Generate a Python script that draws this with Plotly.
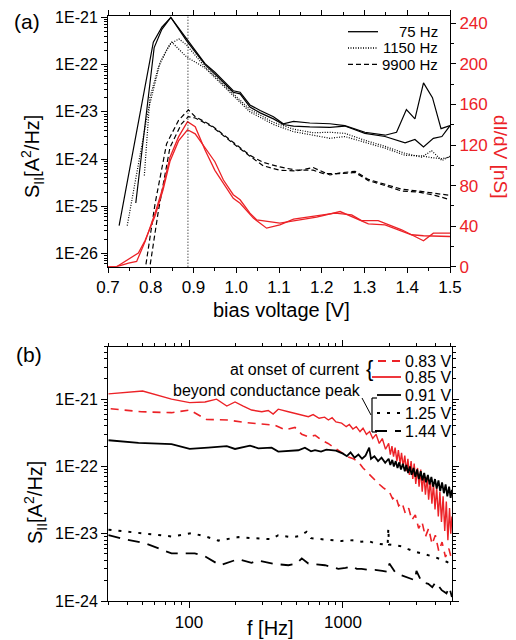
import plotly.graph_objects as go

# ---------------- panel (a): noise vs bias voltage ----------------
# 75 Hz (two sweeps)
v_75a = [0.726, 0.806, 0.826, 0.847, 0.884, 0.927, 0.95, 0.993, 1.009, 1.032, 1.056, 1.087, 1.11, 1.134,
         1.172, 1.219, 1.254, 1.301, 1.348, 1.375, 1.398, 1.418, 1.438, 1.459, 1.479, 1.5]
s_75a = [3.9e-26, 3.0e-22, 6.2e-22, 1.0e-21, 3.5e-22, 1.05e-22, 6.9e-23, 2.8e-23, 2.6e-23, 1.4e-23, 1.07e-23,
         7.9e-24, 5.6e-24, 6.3e-24, 5.8e-24, 5.6e-24, 5.1e-24, 3.7e-24, 3.2e-24, 3.7e-24, 1.12e-23, 7.1e-24,
         4.1e-23, 2.0e-23, 4.4e-24, 5.1e-24]
v_75b = [0.765, 0.808, 0.826, 0.847, 0.884, 0.927, 0.95, 0.993, 1.009, 1.032, 1.056, 1.087, 1.11, 1.134,
         1.172, 1.219, 1.254, 1.301, 1.348, 1.395, 1.418, 1.438, 1.461, 1.481, 1.5]
s_75b = [1.17e-25, 2.3e-22, 5.6e-22, 1.0e-21, 3.2e-22, 1.0e-22, 6.3e-23, 2.6e-23, 2.4e-23, 1.26e-23, 9.5e-24,
         7.1e-24, 5.4e-24, 5.0e-24, 4.8e-24, 4.7e-24, 5.0e-24, 3.5e-24, 3.0e-24, 2.2e-24, 2.6e-24, 1.8e-24,
         2.75e-24, 3.0e-24, 5.1e-24]
# 1150 Hz
v_1150a = [0.745, 0.794, 0.822, 0.845, 0.866, 0.884, 0.927, 0.993, 1.032, 1.087, 1.134, 1.18, 1.219, 1.254,
           1.301, 1.348, 1.395, 1.434, 1.457, 1.481, 1.5]
s_1150a = [3.9e-26, 1.07e-23, 1.12e-22, 2.75e-22, 3.5e-22, 2.6e-22, 8.9e-23, 2.4e-23, 1.12e-23, 6.0e-24,
           4.3e-24, 3.6e-24, 3.7e-24, 3.5e-24, 2.5e-24, 1.86e-24, 1.32e-24, 1.1e-24, 1.5e-24, 9.3e-25, 1.15e-24]
v_1150b = [0.785, 0.798, 0.818, 0.837, 0.849, 0.884, 0.927, 0.993, 1.032, 1.087, 1.134, 1.18, 1.219, 1.254,
           1.301, 1.348, 1.395, 1.434, 1.457, 1.481, 1.5]
s_1150b = [4.5e-25, 2.0e-23, 8.9e-23, 2.0e-22, 3.0e-22, 1.45e-22, 8.5e-23, 2.2e-23, 1.0e-23, 5.4e-24,
           3.8e-24, 3.2e-24, 2.75e-24, 3.0e-24, 2.3e-24, 1.7e-24, 1.2e-24, 1.17e-24, 1.07e-24, 1.02e-24, 1.1e-24]
# 9900 Hz
v_9900a = [0.786, 0.81, 0.837, 0.865, 0.888, 0.904, 0.943, 0.966, 0.997, 1.032, 1.063, 1.102, 1.141, 1.18,
           1.204, 1.243, 1.278, 1.309, 1.348, 1.387, 1.426, 1.465, 1.5]
s_9900a = [4.0e-27, 1.12e-25, 2.1e-24, 6.6e-24, 1.1e-23, 7.9e-24, 5.1e-24, 3.5e-24, 2.1e-24, 1.2e-24,
           8.5e-25, 6.8e-25, 5.8e-25, 5.8e-25, 4.9e-25, 4.9e-25, 5.2e-25, 3.5e-25, 2.75e-25, 2.1e-25,
           2.0e-25, 1.7e-25, 1.38e-25]
v_9900b = [0.796, 0.818, 0.845, 0.872, 0.888, 0.904, 0.943, 0.966, 0.997, 1.032, 1.063, 1.102, 1.141, 1.18,
           1.219, 1.243, 1.278, 1.309, 1.348, 1.387, 1.426, 1.465, 1.5]
s_9900b = [4.0e-27, 8.1e-26, 1.78e-24, 5.6e-24, 7.9e-24, 7.4e-24, 4.9e-24, 3.3e-24, 2.0e-24, 1.15e-24,
           7.2e-25, 5.8e-25, 5.6e-25, 6.6e-25, 4.6e-25, 5.1e-25, 5.5e-25, 3.7e-25, 2.95e-25, 2.3e-25,
           2.1e-25, 1.86e-25, 1.7e-25]
# dI/dV (right axis, nS), two sweeps
v_gA = [0.693, 0.72, 0.748, 0.767, 0.787, 0.81, 0.829, 0.845, 0.865, 0.886, 0.904, 0.927, 0.95, 0.993,
        1.009, 1.04, 1.071, 1.102, 1.134, 1.18, 1.219, 1.231, 1.27, 1.293, 1.332, 1.387, 1.438, 1.461, 1.5]
g_A = [0, 0, 3.6, 5.2, 25, 52.8, 79, 108, 128, 143, 138, 115, 95, 67.5, 62.6, 47.9, 38, 41.3, 46.9,
       49.5, 52, 52.8, 51.1, 45.5, 45.5, 36.4, 25.6, 33.1, 33.1]
v_gB = [0.693, 0.72, 0.771, 0.787, 0.81, 0.829, 0.845, 0.865, 0.886, 0.904, 0.95, 0.97, 0.993, 1.009,
        1.032, 1.048, 1.102, 1.141, 1.188, 1.243, 1.309, 1.348, 1.41, 1.438, 1.5]
g_B = [0, 0, 13.5, 26, 50, 76, 104, 124, 135, 131, 103.5, 85.5, 71, 66, 52.8, 46.2, 43, 45.5, 48.9,
       54.4, 42.3, 41.3, 31.5, 30.5, 29.8]
v_peak = 0.887

# ---------------- panel (b): spectra ----------------
f_083 = [31, 49, 77, 101, 130, 180, 231, 300, 361, 420, 488, 540, 596, 660, 728, 800, 887, 980, 1084, 1170,
         1259, 1350, 1459, 1570, 1694, 1830, 2000, 2100, 2200, 2300, 2420, 2540, 2670, 2800, 2950, 3100,
         3260, 3430, 3600, 3790, 3980, 4190, 4400, 4630, 4870, 5100]
s_083 = [7.2e-22, 6.5e-22, 6.3e-22, 6.9e-22, 5.0e-22, 4.9e-22, 4.5e-22, 4.3e-22, 4.1e-22, 3.5e-22, 3.8e-22,
         3.0e-22, 2.75e-22, 2.9e-22, 2.45e-22, 2.2e-22, 1.86e-22, 1.6e-22, 1.38e-22, 1.3e-22, 1.17e-22,
         9.5e-23, 7.9e-23, 6.8e-23, 5.6e-23, 4.8e-23, 4.2e-23, 3.3e-23, 3.6e-23, 2.6e-23, 2.9e-23, 2.0e-23,
         2.4e-23, 1.6e-23, 1.9e-23, 1.2e-23, 1.5e-23, 9.0e-24, 1.2e-23, 7.0e-24, 9.5e-24, 5.5e-24, 7.5e-24,
         4.5e-24, 6.0e-24, 4.0e-24]
f_085 = [30, 50, 77, 101, 127, 151, 176, 199, 225, 255, 297, 327, 352, 380, 442, 490, 540, 596, 640, 700,
         760, 804, 850, 900, 980, 1050, 1100, 1160, 1220, 1290, 1350, 1420, 1490, 1560, 1640, 1720, 1800,
         1890, 1980, 2030, 2080, 2130, 2180, 2240, 2290, 2350, 2400, 2460, 2520, 2580, 2640, 2700, 2770,
         2840, 2900, 2970, 3050, 3120, 3200, 3270, 3350, 3430, 3520, 3600, 3690, 3780, 3870, 3960, 4060,
         4160, 4260, 4360, 4470, 4580, 4690, 4800, 4920, 5010, 5100]
s_085 = [1.2e-21, 1.32e-21, 1.0e-21, 8.9e-22, 9.1e-22, 1.0e-21, 7.9e-22, 9.1e-22, 7.9e-22, 6.9e-22, 6.5e-22,
         6.8e-22, 6.0e-22, 7.1e-22, 6.5e-22, 6.1e-22, 5.8e-22, 5.5e-22, 5.9e-22, 5.2e-22, 5.4e-22, 4.9e-22,
         5.3e-22, 4.6e-22, 4.4e-22, 3.9e-22, 4.2e-22, 3.6e-22, 3.9e-22, 3.3e-22, 3.7e-22, 3.0e-22, 3.3e-22,
         2.6e-22, 3.0e-22, 2.2e-22, 2.6e-22, 1.8e-22, 2.2e-22, 1.5e-22, 2.0e-22, 1.4e-22, 1.9e-22, 1.2e-22,
         1.75e-22, 1.1e-22, 1.6e-22, 1.0e-22, 1.45e-22, 8.5e-23, 1.3e-22, 7.5e-23, 1.2e-22, 6.5e-23,
         1.1e-22, 5.5e-23, 9.5e-23, 5.0e-23, 9.0e-23, 4.2e-23, 8.0e-23, 3.8e-23, 7.0e-23, 3.2e-23, 6.2e-23,
         2.8e-23, 5.5e-23, 2.3e-23, 4.8e-23, 1.8e-23, 4.2e-23, 1.5e-23, 3.6e-23, 1.1e-23, 3.0e-23, 8.0e-24,
         2.4e-23, 1.0e-23, 1.8e-23]
f_091 = [30, 47, 77, 101, 133, 176, 199, 249, 282, 344, 380, 442, 513, 566, 620, 658, 720, 780, 843, 900,
         1000, 1060, 1120, 1190, 1260, 1330, 1400, 1480, 1520, 1600, 1690, 1780, 1880, 1980, 2030, 2090,
         2140, 2200, 2260, 2320, 2380, 2450, 2520, 2580, 2650, 2720, 2790, 2870, 2950, 3030, 3110, 3200,
         3280, 3370, 3460, 3560, 3650, 3750, 3850, 3960, 4060, 4170, 4280, 4400, 4520, 4640, 4760, 4890,
         5000, 5100]
s_091 = [2.45e-22, 2.24e-22, 2.14e-22, 1.82e-22, 1.9e-22, 2.0e-22, 1.82e-22, 2.04e-22, 1.86e-22, 1.9e-22,
         1.66e-22, 1.7e-22, 1.74e-22, 1.9e-22, 1.68e-22, 1.75e-22, 1.66e-22, 1.78e-22, 1.74e-22, 1.72e-22,
         1.55e-22, 1.42e-22, 1.62e-22, 1.35e-22, 1.5e-22, 1.3e-22, 1.45e-22, 1.9e-22, 1.3e-22, 1.42e-22,
         1.2e-22, 1.35e-22, 1.13e-22, 1.3e-22, 1.05e-22, 1.25e-22, 1.0e-22, 1.2e-22, 9.5e-23, 1.15e-22,
         9.0e-23, 1.1e-22, 8.5e-23, 1.05e-22, 8.0e-23, 1.0e-22, 7.5e-23, 9.5e-23, 7.0e-23, 9.0e-23, 6.5e-23,
         8.5e-23, 6.2e-23, 8.0e-23, 5.8e-23, 7.5e-23, 5.4e-23, 7.0e-23, 5.0e-23, 6.5e-23, 4.7e-23, 6.2e-23,
         4.3e-23, 5.8e-23, 4.0e-23, 5.4e-23, 3.6e-23, 5.0e-23, 3.4e-23, 4.5e-23]
f_125 = [30, 47, 77, 104, 130, 155, 209, 260, 344, 380, 463, 520, 581, 620, 692, 800, 980, 1150, 1321, 1460,
         1614, 1800, 1950, 1970, 1990, 2200, 2404, 2650, 2931, 3250, 3581, 3950, 4375, 4750, 5100]
s_125 = [1.15e-23, 1.02e-23, 9.1e-24, 1.02e-23, 9.0e-24, 7.9e-24, 8.9e-24, 8.6e-24, 8.3e-24, 9.5e-24, 8.9e-24,
         9.2e-24, 1.07e-23, 8.6e-24, 8.3e-24, 8.1e-24, 7.8e-24, 8.0e-24, 7.6e-24, 7.8e-24, 7.2e-24, 7.0e-24,
         6.8e-24, 1.2e-23, 6.9e-24, 6.7e-24, 6.5e-24, 5.9e-24, 5.4e-24, 5.1e-24, 4.8e-24, 4.5e-24, 4.1e-24,
         3.8e-24, 3.4e-24]
f_144 = [30, 38, 52, 77, 109, 127, 159, 209, 255, 282, 361, 442, 500, 540, 596, 680, 764, 850, 933, 1040,
         1138, 1230, 1321, 1460, 1614, 1800, 1968, 2000, 2200, 2404, 2650, 2931, 3000, 3250, 3581, 3800,
         4000, 4375, 4700, 4900, 5100]
s_144 = [9.5e-24, 8.3e-24, 7.2e-24, 5.1e-24, 5.1e-24, 4.6e-24, 3.4e-24, 4.2e-24, 3.7e-24, 4.0e-24, 3.55e-24,
         3.4e-24, 3.6e-24, 4.3e-24, 3.6e-24, 3.5e-24, 3.4e-24, 3.2e-24, 3.0e-24, 3.1e-24, 3.3e-24, 3.0e-24,
         3.0e-24, 2.9e-24, 2.9e-24, 2.8e-24, 2.7e-24, 3.6e-24, 2.6e-24, 2.4e-24, 2.2e-24, 2.04e-24, 2.8e-24,
         1.9e-24, 1.8e-24, 1.6e-24, 1.9e-24, 1.45e-24, 1.3e-24, 1.6e-24, 1.15e-24]

exp_ticks = [1e-21, 1e-22, 1e-23, 1e-24, 1e-25, 1e-26]
exp_text = ["1E-21", "1E-22", "1E-23", "1E-24", "1E-25", "1E-26"]

RED = "#ec2227"
FONT = "Liberation Sans, Arial, sans-serif"
W, H = 516, 640


def px(x):
    return x / W


def py(y):
    return 1 - y / H


fig = go.Figure()

# panel (a) black noise curves
for v, s, dash in [(v_75a, s_75a, "solid"), (v_75b, s_75b, "solid"),
                   (v_1150a, s_1150a, "1px,1.5px"), (v_1150b, s_1150b, "1px,1.5px"),
                   (v_9900a, s_9900a, "5px,3px"), (v_9900b, s_9900b, "5px,3px")]:
    fig.add_trace(go.Scatter(x=v, y=s, mode="lines", xaxis="x", yaxis="y",
                             line=dict(color="black", width=1.2, dash=dash), showlegend=False))
# panel (a) conductance
for v, g in [(v_gA, g_A), (v_gB, g_B)]:
    fig.add_trace(go.Scatter(x=v, y=g, mode="lines", xaxis="x", yaxis="y2",
                             line=dict(color=RED, width=1.3), showlegend=False))

# panel (b) spectra
for f, s, col, dash, w in [(f_083, s_083, RED, "8px,6px", 1.6), (f_085, s_085, RED, "solid", 1.4),
                           (f_091, s_091, "black", "solid", 1.8), (f_125, s_125, "black", "3px,7px", 2),
                           (f_144, s_144, "black", "12px,8px", 1.8)]:
    fig.add_trace(go.Scatter(x=f, y=s, mode="lines", xaxis="x2", yaxis="y3",
                             line=dict(color=col, width=w, dash=dash), showlegend=False))

axis_common = dict(showgrid=False, zeroline=False, showline=True, linecolor="black", linewidth=1,
                   ticks="outside", tickcolor="black", automargin=False)

fig.update_layout(
    width=W, height=H, margin=dict(l=0, r=0, t=0, b=0),
    paper_bgcolor="white", plot_bgcolor="white",
    font=dict(family=FONT, color="black", size=16),
    xaxis=dict(domain=[px(108), px(450)], anchor="y", range=[0.7, 1.5], dtick=0.1, tick0=0.7,
               tickformat=".1f", ticklen=5, tickfont=dict(size=17), mirror="ticks",
               minor=dict(dtick=0.05, ticks="outside", ticklen=3, tickcolor="black"), **axis_common),
    yaxis=dict(domain=[py(266.7), py(16)], anchor="x", type="log", range=[-26.28, -20.97],
               tickvals=exp_ticks, ticktext=exp_text, ticklen=6, tickfont=dict(size=16),
               minor=dict(dtick="D1", ticks="outside", ticklen=3, tickcolor="black"), **axis_common),
    yaxis2=dict(overlaying="y", anchor="x", side="right", range=[0, 247.2], dtick=40, ticklen=5,
                tickfont=dict(size=17, color=RED),
                minor=dict(dtick=20, ticks="outside", ticklen=3, tickcolor="black"), **axis_common),
    xaxis2=dict(domain=[px(108), px(452)], anchor="y3", type="log", range=[1.474, 3.708],
                tickvals=[100, 1000], ticktext=["100", "1000"], ticklen=6, tickfont=dict(size=17),
                mirror="ticks",
                minor=dict(dtick="D1", ticks="outside", ticklen=3, tickcolor="black"), **axis_common),
    yaxis3=dict(domain=[py(601), py(346.7)], anchor="x2", type="log", range=[-24, -20.22],
                tickvals=exp_ticks[:4], ticktext=exp_text[:4], ticklen=6, tickfont=dict(size=16),
                mirror="ticks",
                minor=dict(dtick="D1", ticks="outside", ticklen=3, tickcolor="black"), **axis_common),
)

# dotted marker of the conductance peak
fig.add_shape(type="line", xref="x", yref="y domain", x0=v_peak, x1=v_peak, y0=0, y1=1,
              line=dict(color="black", width=1, dash="1px,2px"))

ann = []


def text(x, y, s, size=15, color="black", xanchor="center", angle=0):
    ann.append(dict(x=px(x), y=py(y), xref="paper", yref="paper", text=s, showarrow=False,
                    xanchor=xanchor, yanchor="middle", textangle=angle,
                    font=dict(size=size, color=color, family=FONT)))


def seg(x0, y0, x1, y1, color="black", dash="solid", width=1.3):
    fig.add_shape(type="line", xref="paper", yref="paper", x0=px(x0), y0=py(y0), x1=px(x1), y1=py(y1),
                  line=dict(color=color, width=width, dash=dash))


# panel labels and axis titles
text(27, 21, "(a)", size=21)
text(29, 354, "(b)", size=21)
text(281, 310, "bias voltage [V]", size=20)
text(270, 628, "f [Hz]", size=20)
text(32, 157, "S<sub>II</sub>[A<sup>2</sup>/Hz]", size=20, angle=-90)
text(35, 503, "S<sub>II</sub>[A<sup>2</sup>/Hz]", size=20, angle=-90)
text(501, 156, "dI/dV [nS]", size=19, color=RED, angle=90)

# legend panel (a)
for y, lab, dash in [(31.7, "75 Hz", "solid"), (48, "1150 Hz", "1px,1.5px"), (64.3, "9900 Hz", "5px,3px")]:
    seg(348, y, 378, y, dash=dash, width=1.3)
    text(440, y, lab, size=15, xanchor="right")

# legend panel (b)
for y, lab, col, dash, x0 in [(361, "0.83 V", RED, "8px,6px", 378), (377, "0.85 V", RED, "solid", 372),
                              (395, "0.91 V", "black", "solid", 377), (413, "1.25 V", "black", "3px,7px", 377),
                              (431, "1.44 V", "black", "12px,8px", 375)]:
    seg(x0, y, 401, y, color=col, dash=dash, width=1.8)
    text(403, y, lab, size=16, xanchor="left")

text(362, 369, "at onset of current", size=16, xanchor="right")
text(369, 368, "{", size=22)
text(363, 390, "beyond conductance peak", size=16, xanchor="right")
seg(377, 398, 372, 398, width=1.2)
seg(372, 398, 372, 432, width=1.2)
seg(372, 432, 377, 432, width=1.2)
seg(362, 398, 371, 415, width=1.0)

fig.update_layout(annotations=ann)
fig.write_html("out.html", config={"displayModeBar": False},
               post_script="document.body.style.margin='0';document.body.style.overflow='hidden';")
